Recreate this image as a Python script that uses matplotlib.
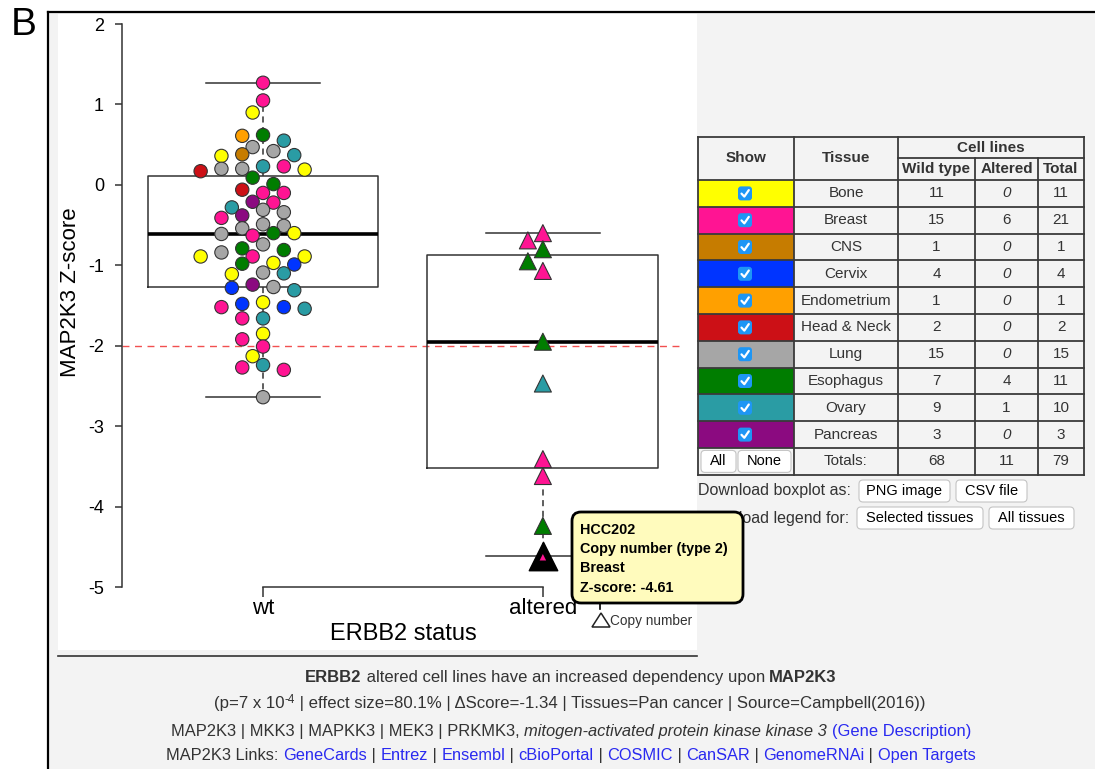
import numpy as np
import matplotlib
matplotlib.use('Agg')
import matplotlib.pyplot as plt
from matplotlib.patches import Rectangle, FancyBboxPatch, Polygon

plt.rcParams['font.family'] = ['Liberation Sans', 'DejaVu Sans']
plt.rcParams['axes.unicode_minus'] = False

# ---- data ----
tissues = ['Bone', 'Breast', 'CNS', 'Cervix', 'Endometrium', 'Head & Neck',
           'Lung', 'Esophagus', 'Ovary', 'Pancreas']
tissue_colors = ['#ffff00', '#ff1493', '#c67c00', '#0034ff', '#ffa000', '#cc1016',
                 '#a6a6a6', '#007d00', '#2a9ca4', '#8b0a80']
n_wild = [11, 15, 1, 4, 1, 2, 15, 7, 9, 3]
n_altered = [0, 6, 0, 0, 0, 0, 0, 4, 1, 0]

wt_tissue = ['Breast', 'Breast', 'Bone', 'Esophagus', 'Endometrium', 'Ovary', 'Lung', 'Lung',
             'CNS', 'Ovary', 'Bone', 'Ovary', 'Breast', 'Lung', 'Lung', 'Bone', 'Head & Neck',
             'Esophagus', 'Esophagus', 'Head & Neck', 'Breast', 'Breast', 'Pancreas', 'Breast',
             'Ovary', 'Lung', 'Lung', 'Pancreas', 'Breast', 'Lung', 'Lung', 'Lung', 'Esophagus',
             'Bone', 'Lung', 'Breast', 'Lung', 'Esophagus', 'Esophagus', 'Lung', 'Breast', 'Bone',
             'Bone', 'Bone', 'Esophagus', 'Cervix', 'Lung', 'Ovary', 'Bone', 'Pancreas', 'Lung',
             'Cervix', 'Ovary', 'Bone', 'Cervix', 'Cervix', 'Breast', 'Ovary', 'Ovary', 'Breast',
             'Bone', 'Breast', 'Breast', 'Bone', 'Ovary', 'Breast', 'Breast', 'Lung']
wt_score = [1.27, 1.05, 0.90, 0.62, 0.61, 0.55, 0.47, 0.42, 0.38, 0.37, 0.36, 0.23, 0.23,
            0.20, 0.20, 0.19, 0.17, 0.09, 0.01, -0.06, -0.10, -0.10, -0.21, -0.22, -0.28,
            -0.31, -0.34, -0.38, -0.41, -0.49, -0.51, -0.54, -0.60, -0.60, -0.61, -0.63,
            -0.74, -0.79, -0.81, -0.84, -0.89, -0.89, -0.89, -0.97, -0.98, -0.99, -1.09,
            -1.10, -1.11, -1.24, -1.27, -1.28, -1.31, -1.46, -1.48, -1.52, -1.52, -1.54,
            -1.66, -1.66, -1.85, -1.92, -2.01, -2.13, -2.24, -2.27, -2.30, -2.64]

alt_name = ['', '', '', '', '', '', '', '', '', '', 'HCC202']
alt_tissue = ['Breast', 'Breast', 'Esophagus', 'Esophagus', 'Breast', 'Esophagus', 'Ovary',
              'Breast', 'Breast', 'Esophagus', 'Breast']
alt_score = [-0.60, -0.69, -0.80, -0.95, -1.07, -1.95, -2.47, -3.41, -3.62, -4.24, -4.61]

groups = ['wt', 'altered']
tooltip_lines = ['HCC202', 'Copy number (type 2)', 'Breast', 'Z-score: -4.61']
threshold = -2.0

# ---- figure ----
W, H = 1095, 769
fig = plt.figure(figsize=(W / 100, H / 100), dpi=100)
color_of = dict(zip(tissues, tissue_colors))
txt = '#333333'


def px_box(x0, y0, x1, y1):
    return [x0 / W, 1 - y1 / H, (x1 - x0) / W, (y1 - y0) / H]


bg = fig.add_axes([0, 0, 1, 1], zorder=0)
bg.set_xlim(0, W)
bg.set_ylim(H, 0)
bg.axis('off')
bg.add_patch(Rectangle((49, 13), W - 49, H - 13, fc='#f3f3f3', ec='none'))
bg.add_patch(Rectangle((58, 14), 697 - 58, 650 - 14, fc='white', ec='none'))
bg.plot([48, 48], [12, H], color='black', lw=1.6)
bg.plot([48, W], [12, 12], color='black', lw=1.6)
bg.plot([58, 697], [656, 656], color='#333333', lw=1.2)
bg.text(24, 25, 'B', fontsize=28, ha='center', va='center')
bg.text(71, 292, 'MAP2K3 Z-score', rotation=90, fontsize=16, ha='center', va='center')
bg.text(403, 634, 'ERBB2 status', fontsize=17, ha='center', va='center')

# ---- main plot ----
ax = fig.add_axes(px_box(122, 16, 680, 587), zorder=1)
ax.patch.set_alpha(0)

ax.axhline(threshold, color='#f25050', lw=1, dashes=(5, 4), zorder=1.5)

ax.boxplot([wt_score, alt_score], positions=[1, 2], widths=0.825, whis=(0, 100),
           showfliers=False, capwidths=0.41,
           medianprops=dict(color='black', lw=2.6),
           boxprops=dict(color='#333333', lw=1.1),
           whiskerprops=dict(color='#333333', lw=1.1, linestyle=(0, (4, 3))),
           capprops=dict(color='#333333', lw=1.1), zorder=2)

ax.set_xlim(0.496, 2.49)
ax.set_ylim(-5, 2.1)
for s in ['top', 'right']:
    ax.spines[s].set_visible(False)
ax.spines['left'].set_bounds(-5, 2)
ax.spines['bottom'].set_bounds(1, 2)
for s in ['left', 'bottom']:
    ax.spines[s].set_color('#333333')
    ax.spines[s].set_linewidth(1.1)
ax.set_yticks(range(-5, 3))
ax.set_yticklabels([str(v) for v in range(-5, 3)])
ax.tick_params(axis='y', length=5, width=1.1, pad=8, labelsize=13, color='#333333')
ax.set_xticks([1, 2])
ax.set_xticklabels(groups)
ax.tick_params(axis='x', length=7, width=1.1, pad=1, labelsize=16, color='#333333')

# pixel scale of the data axes
p0 = ax.transData.transform((0, 0))
p1 = ax.transData.transform((1, 1))
sx, sy = p1[0] - p0[0], p1[1] - p0[1]


def swarm(vals, step, diam):
    placed = []
    offs = []
    order = [0]
    for k in range(1, 12):
        order += [-k, k]
    for v in vals:
        y = v * sy
        for k in order:
            x = k * step
            if all((x - a) ** 2 + (y - b) ** 2 >= diam ** 2 for a, b in placed):
                break
        placed.append((x, y))
        offs.append(x / sx)
    return np.array(offs)


wt_off = swarm(wt_score, 10.4, 12.4)
ax.scatter(1 + wt_off, wt_score, s=92, c=[color_of[t] for t in wt_tissue],
           edgecolors='#333333', linewidths=0.8, zorder=3, clip_on=False)

alt_off = swarm(alt_score, 15, 15)
normal = [i for i, n in enumerate(alt_name) if n == '']
hl = [i for i, n in enumerate(alt_name) if n != '']
ax.scatter(2 + alt_off[normal], np.array(alt_score)[normal], s=150, marker='^',
           c=[color_of[alt_tissue[i]] for i in normal], edgecolors='#333333',
           linewidths=0.8, zorder=3, clip_on=False)
for i in hl:
    ax.scatter(2 + alt_off[i], alt_score[i], s=420, marker='^', c='black',
               edgecolors='black', zorder=4, clip_on=False)
    ax.scatter(2 + alt_off[i], alt_score[i] - 0.02, s=22, marker='^',
               c=color_of[alt_tissue[i]], edgecolors='none', zorder=5, clip_on=False)

# ---- overlay: table, buttons, tooltip, captions ----
ov = fig.add_axes([0, 0, 1, 1], zorder=5)
ov.set_xlim(0, W)
ov.set_ylim(H, 0)
ov.axis('off')
ov.patch.set_alpha(0)

cols = [698, 794, 898, 975, 1038, 1084]
t_top, t_sub, t_hdr = 137, 158, 180
row_h = 26.8
n_rows = len(tissues) + 1
t_bot = t_hdr + row_h * n_rows
line_c = '#3a3a3a'
lw_t = 1.3

for i, (t, c) in enumerate(zip(tissues, tissue_colors)):
    y0 = t_hdr + i * row_h
    yc = y0 + row_h / 2
    ov.add_patch(Rectangle((cols[0], y0), cols[1] - cols[0], row_h, fc=c, ec='none'))
    ov.add_patch(FancyBboxPatch((738, yc - 7), 14, 14, boxstyle='round,pad=0,rounding_size=3',
                                fc='#1e96f5', ec='none'))
    ov.plot([741.5, 744.3, 748.8], [yc + 0.2, yc + 3.2, yc - 3.3], color='white', lw=1.6,
            solid_capstyle='round', solid_joinstyle='round')
    ov.text((cols[1] + cols[2]) / 2, yc, t, ha='center', va='center', fontsize=11, color=txt)
    ov.text((cols[2] + cols[3]) / 2, yc, str(n_wild[i]), ha='center', va='center',
            fontsize=11, color=txt)
    ov.text((cols[3] + cols[4]) / 2, yc, str(n_altered[i]), ha='center', va='center',
            fontsize=11, color=txt, style='italic' if n_altered[i] == 0 else 'normal')
    ov.text((cols[4] + cols[5]) / 2, yc, str(n_wild[i] + n_altered[i]), ha='center',
            va='center', fontsize=11, color=txt)

yc = t_hdr + (n_rows - 0.5) * row_h
ov.text((cols[1] + cols[2]) / 2, yc, 'Totals:', ha='center', va='center', fontsize=11, color=txt)
ov.text((cols[2] + cols[3]) / 2, yc, str(sum(n_wild)), ha='center', va='center', fontsize=11, color=txt)
ov.text((cols[3] + cols[4]) / 2, yc, str(sum(n_altered)), ha='center', va='center', fontsize=11, color=txt)
ov.text((cols[4] + cols[5]) / 2, yc, str(sum(n_wild) + sum(n_altered)), ha='center', va='center',
        fontsize=11, color=txt)


def button(x0, x1, yc, label, h=22, fs=10.5):
    ov.add_patch(FancyBboxPatch((x0, yc - h / 2), x1 - x0, h, boxstyle='round,pad=0,rounding_size=4',
                                fc='white', ec='#c4c4c4', lw=0.8))
    ov.text((x0 + x1) / 2, yc, label, ha='center', va='center', fontsize=fs, color='black')


button(701, 736, yc, 'All')
button(738, 791, yc, 'None')

# header
ov.text((cols[0] + cols[1]) / 2, (t_top + t_hdr) / 2, 'Show', ha='center', va='center',
        fontsize=11, fontweight='bold', color=txt)
ov.text((cols[1] + cols[2]) / 2, (t_top + t_hdr) / 2, 'Tissue', ha='center', va='center',
        fontsize=11, fontweight='bold', color=txt)
ov.text((cols[2] + cols[5]) / 2, (t_top + t_sub) / 2, 'Cell lines', ha='center', va='center',
        fontsize=11, fontweight='bold', color=txt)
for j, h in enumerate(['Wild type', 'Altered', 'Total']):
    ov.text((cols[2 + j] + cols[3 + j]) / 2, (t_sub + t_hdr) / 2, h, ha='center', va='center',
            fontsize=11, fontweight='bold', color=txt)

# grid lines
for k in range(n_rows + 1):
    y = t_hdr + k * row_h
    ov.plot([cols[0], cols[-1]], [y, y], color=line_c, lw=lw_t)
ov.plot([cols[0], cols[-1]], [t_top, t_top], color=line_c, lw=lw_t)
ov.plot([cols[2], cols[-1]], [t_sub, t_sub], color=line_c, lw=lw_t)
for x in [cols[0], cols[1], cols[2], cols[5]]:
    ov.plot([x, x], [t_top, t_bot], color=line_c, lw=lw_t)
for x in [cols[3], cols[4]]:
    ov.plot([x, x], [t_sub, t_bot], color=line_c, lw=lw_t)

# download rows
ov.text(698, 491, 'Download boxplot as:', ha='left', va='center', fontsize=11.5, color=txt)
button(859, 950, 491, 'PNG image')
button(956, 1027, 491, 'CSV file')
ov.text(698, 518, 'Download legend for:', ha='left', va='center', fontsize=11.5, color=txt)
button(857, 983, 518, 'Selected tissues')
button(989, 1074, 518, 'All tissues')

# tooltip
ov.add_patch(FancyBboxPatch((572, 512), 171, 91, boxstyle='round,pad=0,rounding_size=9',
                            fc='#fffbbd', ec='black', lw=2, zorder=6))
for k, line in enumerate(tooltip_lines):
    ov.text(580, 530 + k * 19.2, line, ha='left', va='center', fontsize=10.4,
            fontweight='bold', color='black', zorder=7)
ov.plot([600, 600], [603, 609], color='black', lw=1.2)

# copy number legend
ov.add_patch(Polygon([[592, 627], [601, 613], [610, 627]], closed=True, fc='none',
                     ec='#222222', lw=1.1))
ov.text(610, 620.5, 'Copy number', ha='left', va='center', fontsize=9.8, color=txt)

# ---- caption lines with mixed formatting ----
renderer = fig.canvas.get_renderer()
blue = '#2929f0'


def rich_line(pieces, xc, y_base, target_w, base=10.5):
    objs = []
    for s, kw in pieces:
        kw = dict(kw)
        rel = kw.pop('rel', 1.0)
        dy = kw.pop('dy', 0)
        t = ov.text(0, y_base + dy, s, ha='left', va='baseline', fontsize=base * rel,
                    color=kw.pop('color', txt), **kw)
        objs.append((t, rel))
    widths = [t.get_window_extent(renderer).width for t, _ in objs]
    scale = target_w / sum(widths)
    for t, rel in objs:
        t.set_fontsize(base * rel * scale)
    widths = [t.get_window_extent(renderer).width for t, _ in objs]
    x = xc - sum(widths) / 2
    for (t, _), w in zip(objs, widths):
        t.set_x(x)
        x += w


B = dict(fontweight='bold')
N = dict()
rich_line([('ERBB2', B), (' altered cell lines have an increased dependency upon ', N),
           ('MAP2K3', B)], 571, 682, 533)
rich_line([('(p=7 x 10', N), ('-4', dict(rel=0.7, dy=-5)),
           (' | effect size=80.1% | \u0394Score=-1.34 | Tissues=Pan cancer | Source=Campbell(2016))', N)],
          570, 708, 711)
rich_line([('MAP2K3 | MKK3 | MAPKK3 | MEK3 | PRKMK3, ', N),
           ('mitogen-activated protein kinase kinase 3', dict(style='italic')),
           (' ', N), ('(Gene Description)', dict(color=blue))], 571, 736, 803)
links = ['GeneCards', 'Entrez', 'Ensembl', 'cBioPortal', 'COSMIC', 'CanSAR', 'GenomeRNAi',
         'Open Targets']
pieces = [('MAP2K3 Links: ', N)]
for k, l in enumerate(links):
    if k:
        pieces.append((' | ', N))
    pieces.append((l, dict(color=blue)))
rich_line(pieces, 571, 760, 813)

fig.savefig('out.png', dpi=100)
